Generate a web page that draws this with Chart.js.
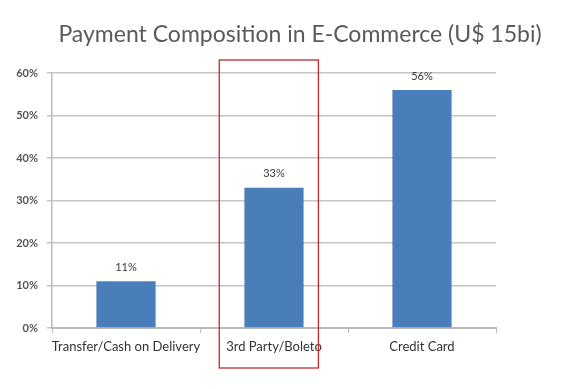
<!DOCTYPE html>
<html>
<head>
<meta charset="utf-8">
<script src="https://cdn.jsdelivr.net/npm/chart.js@4"></script>
<style>
  html, body { margin: 0; padding: 0; background: #ffffff; }
  #wrap { width: 576px; height: 389px; position: relative; }
</style>
</head>
<body>
<div id="wrap"><canvas id="c" width="576" height="389"></canvas></div>
<script>
// Payment methods and their share of e-commerce volume (%)
const categories = ['Transfer/Cash on Delivery', '3rd Party/Boleto', 'Credit Card'];
const shares = [11, 33, 56];
const yTicks = [0, 10, 20, 30, 40, 50, 60];
const titleText = 'Payment Composition in E-Commerce (U$ 15bi)';
const highlightIndex = 1;

const FONT = 'Lato, "Open Sans", sans-serif';

// Title drawn above the plot, slightly right of the canvas centre
const titlePlugin = {
  id: 'titleText',
  afterDraw(chart) {
    const ctx = chart.ctx;
    ctx.save();
    ctx.font = '400 23px ' + FONT;
    ctx.fillStyle = '#5a5a5a';
    ctx.textAlign = 'center';
    ctx.textBaseline = 'middle';
    ctx.fillText(titleText, 300, 35);
    ctx.restore();
  }
};

// Percentage labels above each bar
const valueLabels = {
  id: 'valueLabels',
  afterDatasetsDraw(chart) {
    const ctx = chart.ctx;
    const meta = chart.getDatasetMeta(0);
    ctx.save();
    ctx.font = '11px ' + FONT;
    ctx.fillStyle = '#3a3a3a';
    ctx.textAlign = 'center';
    ctx.textBaseline = 'middle';
    meta.data.forEach((bar, i) => {
      ctx.fillText(shares[i] + '%', bar.x, bar.y - 14);
    });
    ctx.restore();
  }
};

// Red outline around the highlighted category
const highlightBox = {
  id: 'highlightBox',
  afterDraw(chart) {
    const x = chart.scales.x, y = chart.scales.y;
    const cw = x.width / categories.length;
    const cx = x.getPixelForValue(highlightIndex);
    const left = cx - 0.37 * cw;
    const right = cx + 0.30 * cw;
    const top = y.top - 13;
    const bottom = y.bottom + 40;
    const ctx = chart.ctx;
    ctx.save();
    ctx.strokeStyle = '#c0282d';
    ctx.lineWidth = 1.3;
    ctx.strokeRect(left, top, right - left, bottom - top);
    ctx.restore();
  }
};

new Chart(document.getElementById('c'), {
  type: 'bar',
  data: {
    labels: categories,
    datasets: [{
      data: shares,
      backgroundColor: '#4a7ebb',
      borderWidth: 0,
      categoryPercentage: 1,
      barPercentage: 0.4
    }]
  },
  options: {
    responsive: false,
    animation: false,
    devicePixelRatio: 1,
    layout: { padding: { top: 73, right: 80, bottom: 0, left: 0 } },
    plugins: {
      legend: { display: false },
      title: { display: false },
      tooltip: { enabled: false }
    },
    scales: {
      x: {
        offset: true,
        afterFit(scale) { scale.height = 61; },
        grid: {
          offset: true,
          drawOnChartArea: false,
          drawTicks: true,
          tickLength: 5,
          color: '#bbbbbb'
        },
        border: { color: '#bbbbbb', width: 2 },
        ticks: {
          maxRotation: 0,
          minRotation: 0,
          autoSkip: false,
          padding: 6,
          color: '#333333',
          font: { family: FONT, size: 13 }
        }
      },
      y: {
        min: 0,
        max: 60,
        afterFit(scale) { scale.width = 52; },
        afterBuildTicks(scale) { scale.ticks = yTicks.map(v => ({ value: v })); },
        grid: {
          color: '#c4c4c4',
          lineWidth: 1.5,
          tickLength: 5
        },
        border: { color: '#bbbbbb', width: 1.5 },
        ticks: {
          padding: 9,
          color: '#555555',
          font: { family: FONT, size: 11, weight: 'bold' },
          callback: v => v + '%'
        }
      }
    }
  },
  plugins: [titlePlugin, valueLabels, highlightBox]
});
</script>
</body>
</html>
